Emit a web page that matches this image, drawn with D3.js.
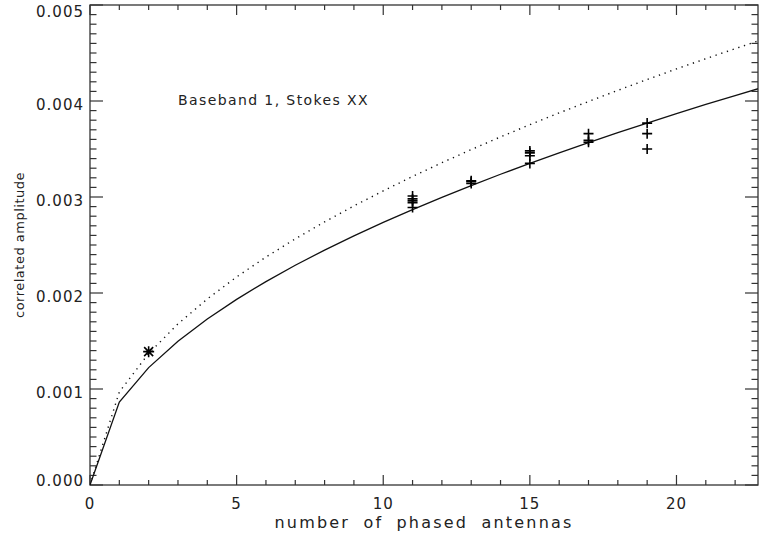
<!DOCTYPE html>
<html>
<head>
<meta charset="utf-8">
<script src="https://cdn.jsdelivr.net/npm/d3@7"></script>
<style>
  body { margin: 0; background: #fff; }
  text { font-family: "DejaVu Sans", sans-serif; fill: #222; }
</style>
</head>
<body>
<div id="viz"></div>
<script>
// model curves sampled at each antenna count
const nAnt = [0,1,2,3,4,5,6,7,8,9,10,11,12,13,14,15,16,17,18,19,20,21,22,23];
const solidAmp = [0,0.000865,0.001223,0.001498,0.001730,0.001934,0.002119,0.002289,0.002447,0.002595,
  0.002735,0.002869,0.002996,0.003119,0.003237,0.003350,0.003460,0.003567,0.003670,0.003770,
  0.003868,0.003964,0.004057,0.004148];
const dottedAmp = [0,0.000969,0.001370,0.001678,0.001938,0.002167,0.002374,0.002564,0.002741,0.002907,
  0.003064,0.003214,0.003357,0.003494,0.003626,0.003753,0.003876,0.003995,0.004111,0.004224,
  0.004334,0.004441,0.004545,0.004647];

// measured points (plus markers)
const measN = [11,11,11,11,11, 13,13,13, 15,15,15,15, 17,17,17, 19,19,19];
const measAmp = [0.00301,0.00298,0.00296,0.00294,0.00289, 0.00317,0.00316,0.00314,
  0.00348,0.00346,0.00343,0.00335, 0.00366,0.00359,0.00357, 0.00377,0.00366,0.00350];
// single star point
const starN = [2];
const starAmp = [0.001389];

const xTicks = [0, 5, 10, 15, 20];
const yTicks = [0, 0.001, 0.002, 0.003, 0.004, 0.005];
const xTickLabels = ["0", "5", "10", "15", "20"];
const yTickLabels = ["0.000", "0.001", "0.002", "0.003", "0.004", "0.005"];

const W = 759, H = 536;
const L = 90, R = 758, T = 5, B = 485;

const svg = d3.select("#viz").append("svg")
    .attr("width", W)
    .attr("height", H);

const x = d3.scaleLinear().domain([0, 22.78]).range([L, R]);
const y = d3.scaleLinear().domain([0, 0.005]).range([B, T]);

const xMinor = d3.range(0, 23, 1).filter(v => v % 5 !== 0);
const yMinor = d3.range(0, 51, 1).filter(v => v % 10 !== 0).map(v => v / 10000);

const axisColor = "#333";

// frame
svg.append("rect")
    .attr("x", L).attr("y", T).attr("width", R - L).attr("height", B - T)
    .attr("fill", "none").attr("stroke", axisColor).attr("stroke-width", 1.3);

// tick marks, pointing inward on all four sides
const tickG = svg.append("g").attr("stroke", axisColor).attr("stroke-width", 1.2);
const xTickData = xTicks.map(v => [v, 10]).concat(xMinor.map(v => [v, 5]));
const yTickData = yTicks.map(v => [v, 13]).concat(yMinor.map(v => [v, 6.5]));

tickG.selectAll("line.xb").data(xTickData).join("line").attr("class", "xb")
    .attr("x1", d => x(d[0])).attr("x2", d => x(d[0]))
    .attr("y1", B).attr("y2", d => B - d[1]);
tickG.selectAll("line.xt").data(xTickData).join("line").attr("class", "xt")
    .attr("x1", d => x(d[0])).attr("x2", d => x(d[0]))
    .attr("y1", T).attr("y2", d => T + d[1]);
tickG.selectAll("line.yl").data(yTickData).join("line").attr("class", "yl")
    .attr("x1", L).attr("x2", d => L + d[1])
    .attr("y1", d => y(d[0])).attr("y2", d => y(d[0]));
tickG.selectAll("line.yr").data(yTickData).join("line").attr("class", "yr")
    .attr("x1", R).attr("x2", d => R - d[1])
    .attr("y1", d => y(d[0])).attr("y2", d => y(d[0]));

// tick labels
svg.append("g").selectAll("text").data(xTicks).join("text")
    .attr("x", d => x(d)).attr("y", B + 24)
    .attr("text-anchor", "middle")
    .style("font-size", "15px").style("letter-spacing", "1px")
    .text((d, i) => xTickLabels[i]);

const yLabelShift = [-4, 4, 4, 4, 4, 7];
svg.append("g").selectAll("text").data(yTicks).join("text")
    .attr("x", L - 6).attr("y", (d, i) => y(d) + yLabelShift[i])
    .attr("dy", "0.35em")
    .attr("text-anchor", "end")
    .style("font-size", "15px").style("letter-spacing", "1px")
    .text((d, i) => yTickLabels[i]);

// clip for curves
svg.append("clipPath").attr("id", "plotClip")
  .append("rect").attr("x", L).attr("y", T).attr("width", R - L).attr("height", B - T);

const line = d3.line().x(d => x(d[0])).y(d => y(d[1]));

svg.append("path")
    .datum(nAnt.map((n, i) => [n, solidAmp[i]]))
    .attr("clip-path", "url(#plotClip)")
    .attr("d", line)
    .attr("fill", "none")
    .attr("stroke", "#111")
    .attr("stroke-width", 1.3);

svg.append("path")
    .datum(nAnt.map((n, i) => [n, dottedAmp[i]]))
    .attr("clip-path", "url(#plotClip)")
    .attr("d", line)
    .attr("fill", "none")
    .attr("stroke", "#111")
    .attr("stroke-width", 1.4)
    .attr("stroke-dasharray", "1.3,4.7");

// plus markers
svg.append("g").selectAll("path")
    .data(measN.map((n, i) => [n, measAmp[i]]))
    .join("path")
    .attr("d", d => `M${x(d[0]) - 5},${y(d[1])}h10M${x(d[0])},${y(d[1]) - 5}v10`)
    .attr("stroke", "#000")
    .attr("stroke-width", 1.6)
    .attr("fill", "none");

// star marker
svg.append("g").selectAll("path")
    .data(starN.map((n, i) => [n, starAmp[i]]))
    .join("path")
    .attr("d", d => {
      const cx = x(d[0]), cy = y(d[1]), r = 5.5, rd = 4.5;
      return `M${cx - r},${cy}h${2 * r}M${cx},${cy - r}v${2 * r}` +
        `M${cx - rd},${cy - rd}L${cx + rd},${cy + rd}M${cx - rd},${cy + rd}L${cx + rd},${cy - rd}`;
    })
    .attr("stroke", "#000")
    .attr("stroke-width", 1.6)
    .attr("fill", "none");

// annotation
svg.append("text")
    .attr("x", 178).attr("y", 105)
    .style("font-size", "14px").style("letter-spacing", "1.4px")
    .text("Baseband 1, Stokes XX");

// axis titles
svg.append("text")
    .attr("x", 424).attr("y", 528)
    .attr("text-anchor", "middle")
    .style("font-size", "16px").style("letter-spacing", "2.2px").style("word-spacing", "6px")
    .text("number of phased antennas");

svg.append("text")
    .attr("transform", `translate(24,${(T + B) / 2}) rotate(-90)`)
    .attr("text-anchor", "middle")
    .style("font-size", "13px").style("letter-spacing", "0.5px")
    .text("correlated amplitude");
</script>
</body>
</html>
